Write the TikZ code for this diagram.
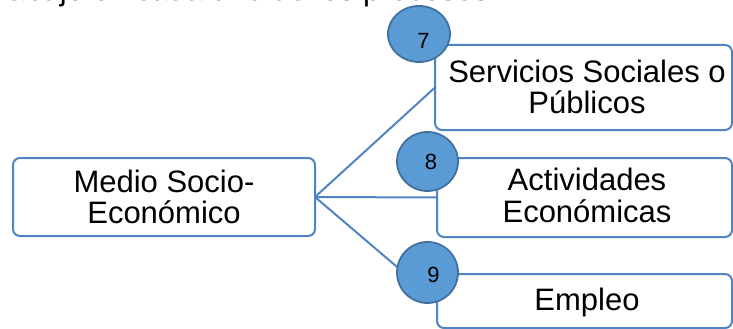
\documentclass[tikz,border=0pt]{standalone}
\usepackage{fontspec}
\setmainfont{Liberation Sans}
\usetikzlibrary{shapes.geometric}
\definecolor{lineblue}{HTML}{4F84C4}
\definecolor{discfill}{HTML}{5B9BD5}
\definecolor{discedge}{HTML}{41719C}
\begin{document}
\begin{tikzpicture}[x=1pt,y=-1pt,
  box/.style={draw=lineblue, line width=2pt, fill=white, rounded corners=7pt, inner sep=0pt, outer sep=0pt},
  disc/.style={ellipse, draw=discedge, line width=1.8pt, fill=discfill, inner sep=0pt, outer sep=0pt},
  txt/.style={font=\fontsize{31}{31}\selectfont, inner sep=0pt, anchor=base},
  num/.style={font=\fontsize{22}{22}\selectfont, inner sep=0pt},
  link/.style={draw=lineblue, line width=2pt}]
\useasboundingbox (0,0) rectangle (733,329);
\clip (0,0) rectangle (733,329);

% clipped text line at the top
\node[txt, anchor=base west] (top) at (8,1) {abajo en cada uno de los procesos};

% boxes
\node[box, minimum width=302pt, minimum height=78pt] (lb) at (164,197) {};
\node[box, minimum width=297pt, minimum height=85pt] (b1) at (583.5,87.5) {};
\node[box, minimum width=295pt, minimum height=79pt] (b2) at (584.5,197.5) {};
\node[box, minimum width=295pt, minimum height=54pt] (b3) at (584.5,301) {};

% connectors
\path[link] (lb.east) -- (b1.west);
\path[link] (lb.east) -- (b2.west);
\path[link] (lb.east) -- (b3.west);

% texts
\node[txt] (t1) at (164,192) {Medio Socio-};
\node[txt] (t2) at (164,223) {Económico};
\node[txt] (t3) at (587,82) {Servicios Sociales o};
\node[txt] (t4) at (587,113) {Públicos};
\node[txt] (t5) at (587,190) {Actividades};
\node[txt] (t6) at (587,222.7) {Económicas};
\node[txt] (t7) at (587,310) {Empleo};

% discs
\node[disc, minimum width=62pt, minimum height=56pt] (d7) at (419,34) {};
\node[disc, minimum width=61pt, minimum height=59pt] (d8) at (427.5,161.5) {};
\node[disc, minimum width=61pt, minimum height=61pt] (d9) at (427.5,272.5) {};
\node[num] (n7) at (423.5,40.5) {7};
\node[num] (n8) at (431,162.3) {8};
\node[num] (n9) at (433.5,275) {9};
\end{tikzpicture}
\end{document}
